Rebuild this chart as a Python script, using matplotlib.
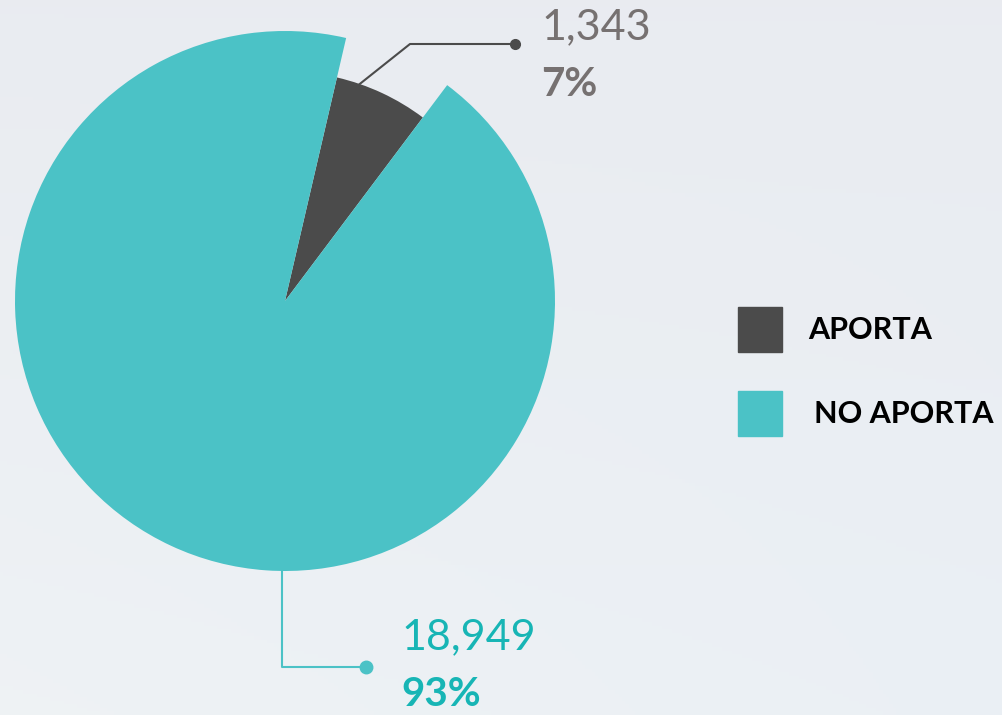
import numpy as np
import matplotlib.pyplot as plt

# datos
categorias = ['APORTA', 'NO APORTA']
valores = [1343, 18949]
colores = ['#4b4b4b', '#4bc2c6']
color_texto = ['#767171', '#17b5b5']

total = sum(valores)
porcentajes = [round(v / total * 100) for v in valores]

fig = plt.figure(figsize=(10.03, 7.15), dpi=100)
ax = fig.add_axes([0, 0, 1, 1])

# fondo claro con degradado suave
yy, xx = np.mgrid[0:1:200j, 0:1:300j]
fondo = np.zeros((200, 300, 3))
fondo[..., 0] = 0.915 + 0.02 * yy - 0.015 * xx * yy
fondo[..., 1] = 0.925 + 0.025 * yy - 0.01 * xx * yy
fondo[..., 2] = 0.945 + 0.015 * yy
ax.imshow(fondo, extent=[0, 1003, 0, 715], origin='upper', zorder=0, aspect='auto')

centro = (285, 414)
radio = 270
frac = valores[0] / total
inicio = 65 + 360 * frac / 2

wedges, _ = ax.pie(valores, colors=colores, startangle=inicio, counterclock=False,
                   radius=radio, center=centro, wedgeprops=dict(linewidth=0))
wedges[0].set_radius(radio * 0.85)
for w in wedges:
    w.set_zorder(2)

# linea guia del primer valor
ang = np.deg2rad(71)
r0 = radio * 0.85
p0 = (centro[0] + r0 * np.cos(ang), centro[1] + r0 * np.sin(ang))
ax.plot([p0[0], 410, 515], [p0[1], 671, 671], color='#4b4b4b', lw=1.5, zorder=3)
ax.plot(515, 671, 'o', color='#4b4b4b', ms=7, zorder=3)
ax.text(541, 688, f'{valores[0]:,}', color=color_texto[0], fontsize=31,
        family='Lato', va='center', ha='left')
ax.text(541, 630, f'{porcentajes[0]}%', color=color_texto[0], fontsize=29,
        family='Lato', weight='bold', va='center', ha='left')

# linea guia del segundo valor
pb = (centro[0] - 3, centro[1] - radio)
ax.plot([pb[0], pb[0], 366], [pb[1], 48, 48], color='#4bc2c6', lw=1.5, zorder=3)
ax.plot(366, 48, 'o', color='#4bc2c6', ms=9, zorder=3)
ax.text(401, 78, f'{valores[1]:,}', color=color_texto[1], fontsize=31,
        family='Lato', va='center', ha='left')
ax.text(401, 20, f'{porcentajes[1]}%', color=color_texto[1], fontsize=29,
        family='Lato', weight='bold', va='center', ha='left')

# leyenda
for i, cat in enumerate(categorias):
    y = 385 - i * 84
    ax.add_patch(plt.Rectangle((738, y - 22), 44, 45, color=colores[i], zorder=3))
    ax.text(808 + 6 * i, y, cat, color='black', fontsize=22, family='Lato',
            weight='bold', va='center', ha='left')

ax.set_xlim(0, 1003)
ax.set_ylim(0, 715)
ax.set_aspect('auto')
ax.axis('off')

plt.savefig('out.png', dpi=100)
